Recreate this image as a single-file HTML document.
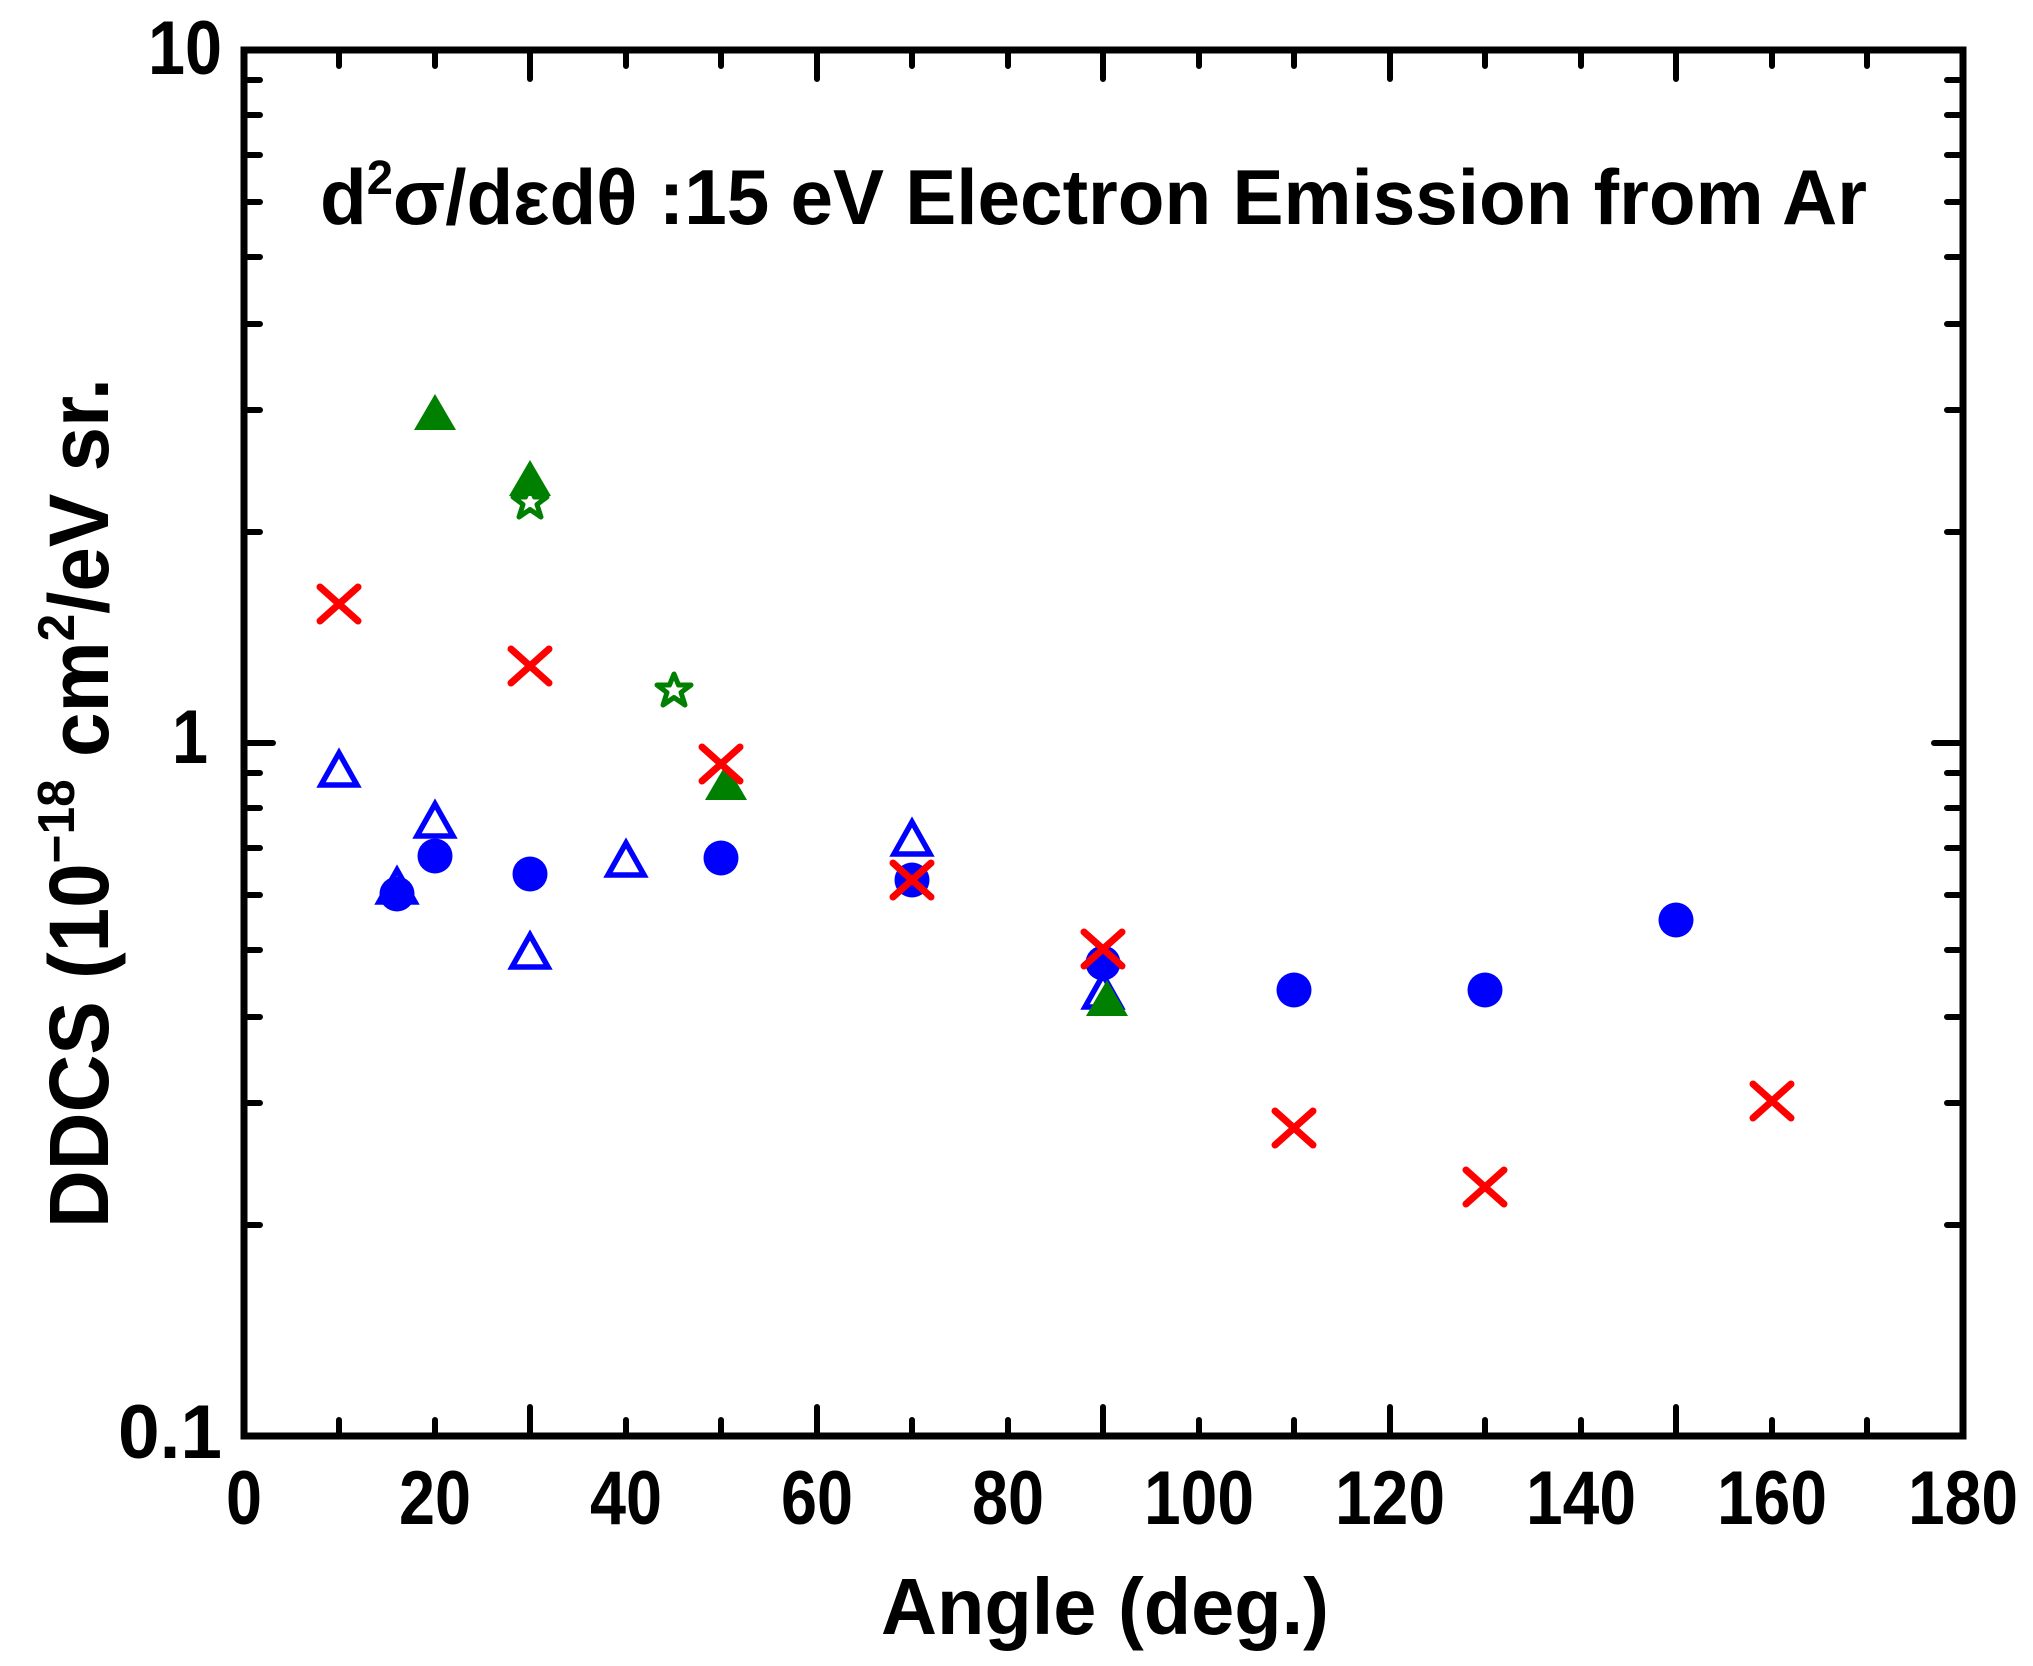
<!DOCTYPE html>
<html><head><meta charset="utf-8"><style>html,body{margin:0;padding:0;background:#fff}svg{display:block}</style></head>
<body>
<svg width="2033" height="1666" viewBox="0 0 2033 1666" xmlns="http://www.w3.org/2000/svg" font-family="Liberation Sans, Arial, sans-serif" font-weight="bold">
<defs>
<g id="xm"><path d="M-19,-17 L19,17 M-19,17 L19,-17" stroke="#ff0000" stroke-width="7" stroke-linecap="round" fill="none"/></g>
<g id="cm"><circle cx="0" cy="0" r="17.5" fill="#0000ff"/></g>
<g id="ot"><path d="M0,-18 L18,14 L-18,14 Z" fill="none" stroke="#0000ff" stroke-width="5.5"/></g>
<g id="gt"><path d="M0,-21 L21,15 L-21,15 Z" fill="#008000"/></g>
<g id="st"><path d="M0,-16 L4.5,-5 L17,-5 L7,2.5 L11,15 L0,7.5 L-11,15 L-7,2.5 L-17,-5 L-4.5,-5 Z" fill="none" stroke="#008000" stroke-width="5" stroke-linejoin="round"/></g>
</defs>
<rect x="244" y="50" width="1719" height="1386" fill="none" stroke="#000" stroke-width="7"/>
<g stroke="#000" stroke-width="6" stroke-linecap="round">
<path d="M339,1436 v-16 M339,50 v16 M530,1436 v-29 M530,50 v29 M626,1436 v-16 M626,50 v16 M817,1436 v-29 M817,50 v29 M912,1436 v-16 M912,50 v16 M1103,1436 v-29 M1103,50 v29 M1199,1436 v-16 M1199,50 v16 M1390,1436 v-29 M1390,50 v29 M1485,1436 v-16 M1485,50 v16 M1676,1436 v-29 M1676,50 v29 M1772,1436 v-16 M1772,50 v16 M435,1436 v-16 M435,50 v16 M721,1436 v-16 M721,50 v16 M1008,1436 v-16 M1008,50 v16 M1294,1436 v-16 M1294,50 v16 M1581,1436 v-16 M1581,50 v16 M1867,1436 v-16 M1867,50 v16"/>
<path d="M244,743 h29 M1963,743 h-29"/>
<path d="M244,1225 h16 M1963,1225 h-16 M244,1103 h16 M1963,1103 h-16 M244,1017 h16 M1963,1017 h-16 M244,950 h16 M1963,950 h-16 M244,895 h16 M1963,895 h-16 M244,848 h16 M1963,848 h-16 M244,808 h16 M1963,808 h-16 M244,773 h16 M1963,773 h-16"/>
<path d="M244,532 h16 M1963,532 h-16 M244,410 h16 M1963,410 h-16 M244,324 h16 M1963,324 h-16 M244,257 h16 M1963,257 h-16 M244,202 h16 M1963,202 h-16 M244,155 h16 M1963,155 h-16 M244,115 h16 M1963,115 h-16 M244,80 h16 M1963,80 h-16"/>
</g>
<g font-size="76" text-anchor="middle" lengthAdjust="spacingAndGlyphs">
<text x="244" y="1524" textLength="36" lengthAdjust="spacingAndGlyphs">0</text>
<text x="435" y="1524" textLength="72" lengthAdjust="spacingAndGlyphs">20</text>
<text x="626" y="1524" textLength="72" lengthAdjust="spacingAndGlyphs">40</text>
<text x="817" y="1524" textLength="72" lengthAdjust="spacingAndGlyphs">60</text>
<text x="1008" y="1524" textLength="72" lengthAdjust="spacingAndGlyphs">80</text>
<text x="1199" y="1524" textLength="110" lengthAdjust="spacingAndGlyphs">100</text>
<text x="1390" y="1524" textLength="110" lengthAdjust="spacingAndGlyphs">120</text>
<text x="1581" y="1524" textLength="110" lengthAdjust="spacingAndGlyphs">140</text>
<text x="1772" y="1524" textLength="110" lengthAdjust="spacingAndGlyphs">160</text>
<text x="1963" y="1524" textLength="110" lengthAdjust="spacingAndGlyphs">180</text>
</g>
<g font-size="76">
<text x="148" y="74" textLength="74" lengthAdjust="spacingAndGlyphs">10</text>
<text x="172" y="763" textLength="36" lengthAdjust="spacingAndGlyphs">1</text>
<text x="118" y="1458" textLength="104" lengthAdjust="spacingAndGlyphs">0.1</text>
</g>
<text x="1105" y="1634" font-size="80" text-anchor="middle" textLength="448" lengthAdjust="spacingAndGlyphs">Angle (deg.)</text>
<text transform="translate(108,1228) rotate(-90)" font-size="84" textLength="850" lengthAdjust="spacingAndGlyphs">DDCS (10<tspan dy="-34" font-size="52">−18</tspan><tspan dy="34"> cm</tspan><tspan dy="-34" font-size="52">2</tspan><tspan dy="34">/eV sr.</tspan></text>
<text x="320" y="224" font-size="78" textLength="1547" lengthAdjust="spacingAndGlyphs">d<tspan dy="-30" font-size="48">2</tspan><tspan dy="30">σ/dεdθ :15 eV Electron Emission from Ar</tspan></text>
<use href="#ot" x="339" y="771"/><use href="#ot" x="397" y="888"/><use href="#ot" x="435" y="822"/><use href="#ot" x="530" y="953"/><use href="#ot" x="626" y="861"/><use href="#ot" x="912" y="840"/><use href="#ot" x="1103" y="993"/>
<use href="#cm" x="397" y="894"/><use href="#cm" x="435" y="856"/><use href="#cm" x="530" y="874"/><use href="#cm" x="721" y="858"/><use href="#cm" x="912" y="880"/><use href="#cm" x="1103" y="963"/><use href="#cm" x="1294" y="990"/><use href="#cm" x="1485" y="990"/><use href="#cm" x="1676" y="920"/>
<use href="#gt" x="435" y="415"/><use href="#gt" x="530" y="481"/><use href="#gt" x="726" y="785"/><use href="#gt" x="1107" y="1001"/>
<use href="#st" x="530" y="502"/><use href="#st" x="674" y="690"/>
<use href="#xm" x="339" y="604"/><use href="#xm" x="530" y="666"/><use href="#xm" x="721" y="764"/><use href="#xm" x="912" y="880"/><use href="#xm" x="1103" y="949"/><use href="#xm" x="1294" y="1128"/><use href="#xm" x="1485" y="1187"/><use href="#xm" x="1772" y="1101"/>
</svg>
</body></html>
